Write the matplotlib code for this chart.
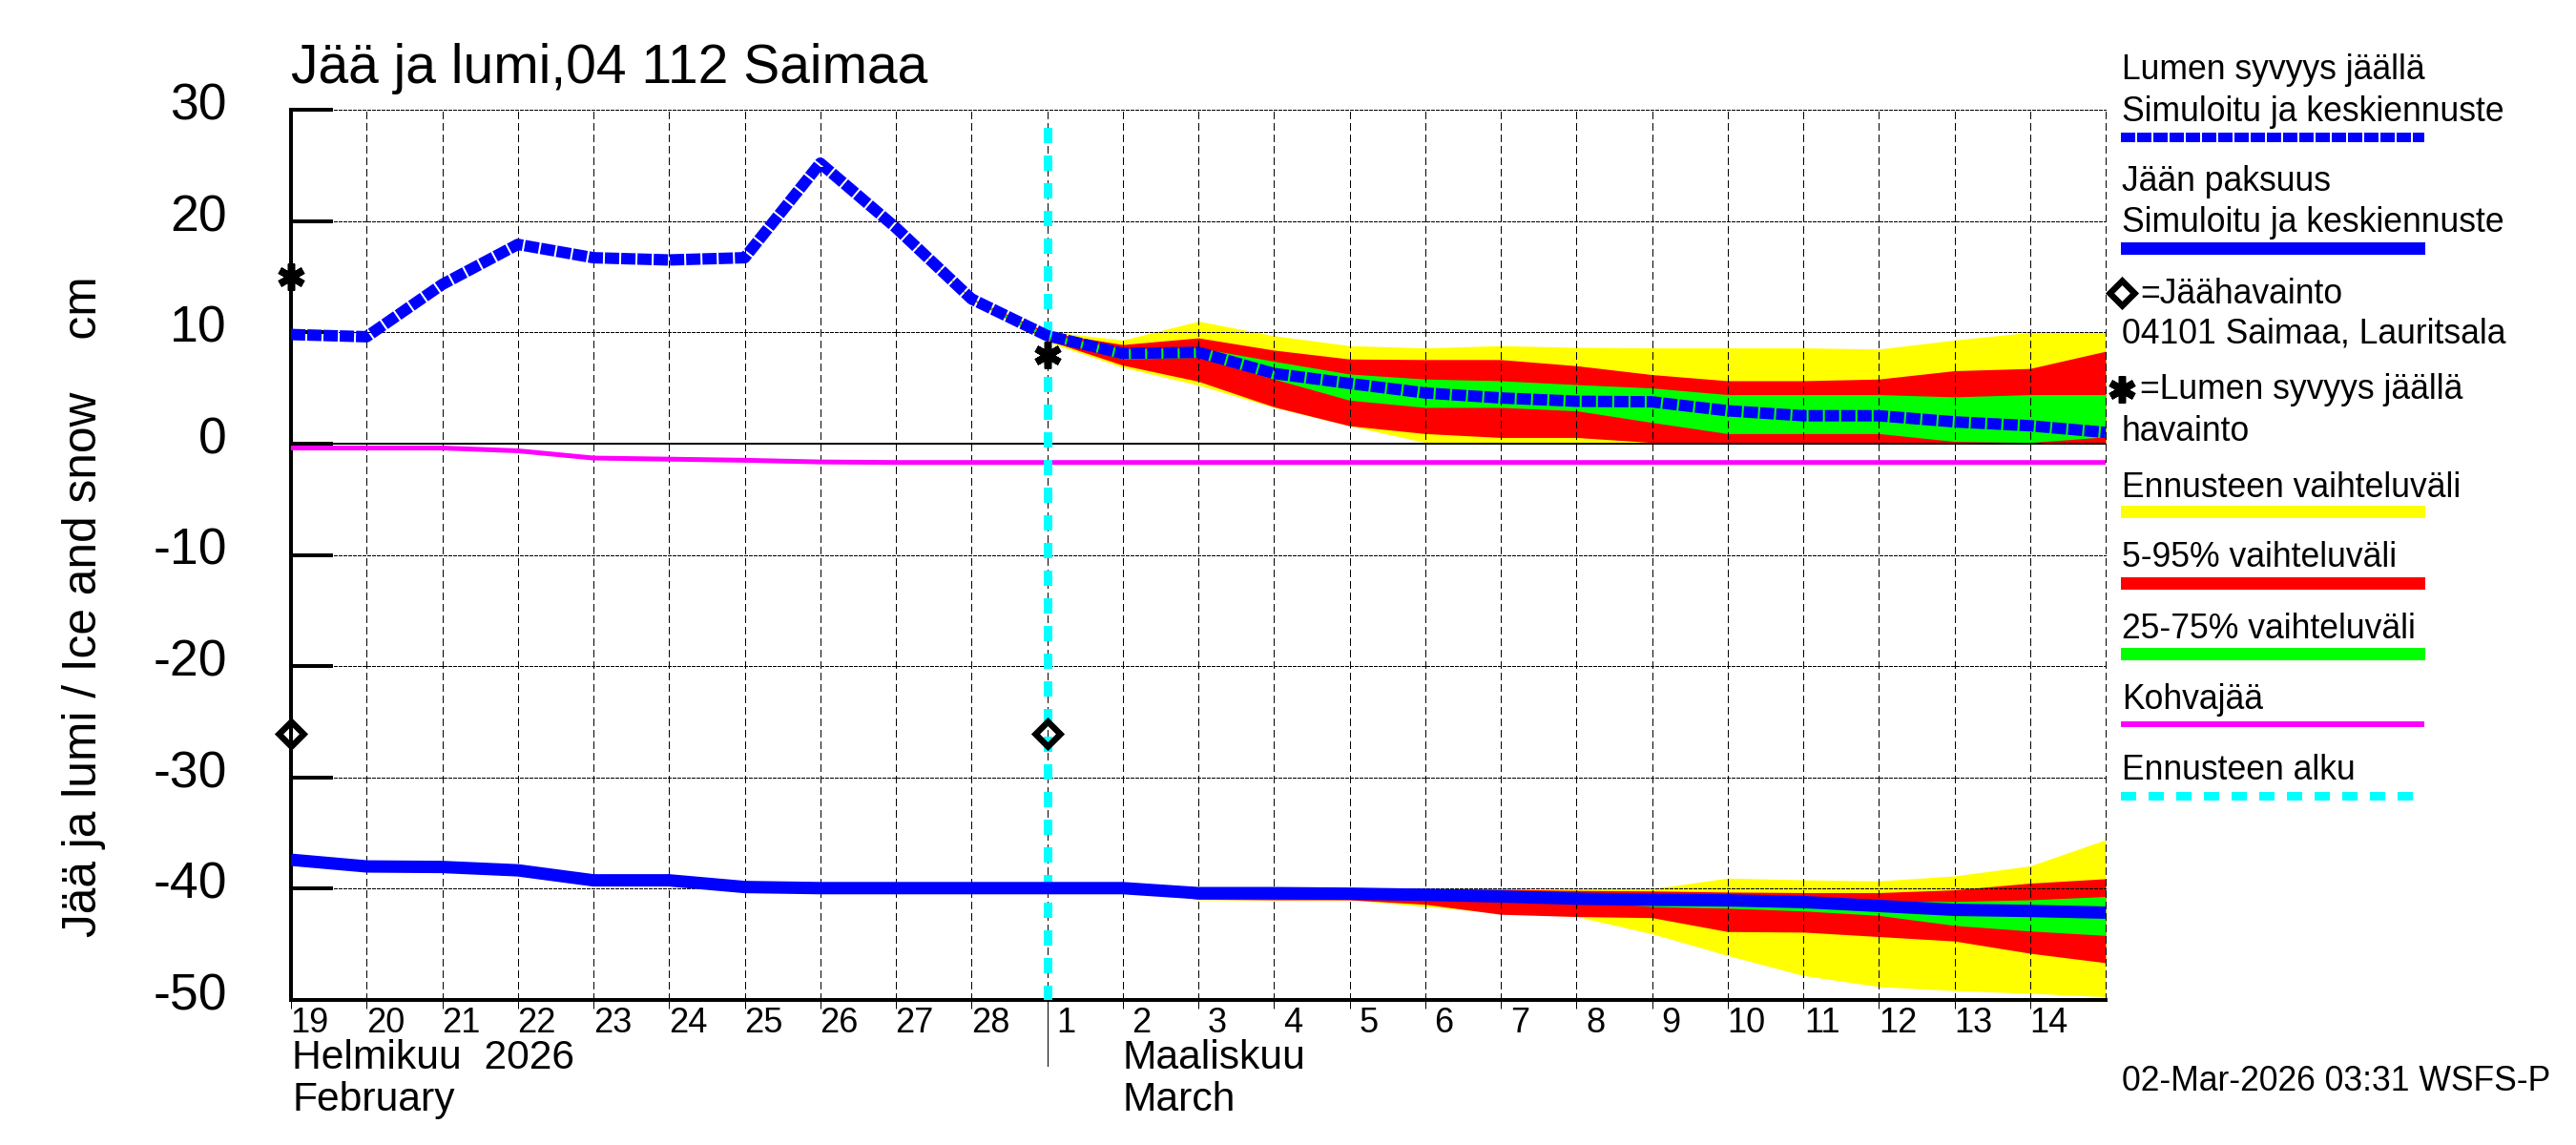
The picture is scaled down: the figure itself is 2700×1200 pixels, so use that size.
# Ice and snow forecast chart for Saimaa
import matplotlib
matplotlib.use('Agg')
import matplotlib.pyplot as plt
from matplotlib.lines import Line2D
from matplotlib.transforms import ScaledTranslation
import numpy as np

plt.rcParams['font.family'] = ['Liberation Sans', 'DejaVu Sans']
plt.rcParams['axes.unicode_minus'] = False

WIDTH = 2700
HEIGHT = 1200

# day numbers on the x axis, Feb 19 is day 0
day_labels = [19, 20, 21, 22, 23, 24, 25, 26, 27, 28,
              1, 2, 3, 4, 5, 6, 7, 8, 9, 10, 11, 12, 13, 14]
y_ticks = [30, 20, 10, 0, -10, -20, -30, -40, -50]

# simulated + mean forecast, Feb 19 ... Mar 15
sim_days = np.arange(25)
snow_mean = [9.8, 9.6, 14.3, 17.9, 16.7, 16.5, 16.7, 25.2, 19.4, 13.0,
             9.7, 8.1, 8.2, 6.3, 5.4, 4.55, 4.1, 3.8, 3.75, 2.95,
             2.5, 2.5, 1.95, 1.6, 1.0]
ice_mean = [-37.4, -38.0, -38.05, -38.35, -39.25, -39.25, -39.85, -39.95, -39.95, -39.95,
            -39.95, -39.95, -40.4, -40.4, -40.45, -40.55, -40.7, -40.9, -41.0, -41.05,
            -41.2, -41.55, -41.9, -42.0, -42.15]
slush = [-0.4, -0.4, -0.4, -0.65, -1.3, -1.4, -1.5, -1.65, -1.7, -1.7,
         -1.7, -1.7, -1.7, -1.7, -1.7, -1.7, -1.7, -1.7, -1.7, -1.7,
         -1.7, -1.7, -1.7, -1.7, -1.7]

# snow bands, Feb 27 ... Mar 15
snow_days = np.arange(8, 25)
snow_yellow_hi = [19.4, 13.1, 10.1, 9.3, 11.0, 9.7, 8.8, 8.6, 8.8, 8.65, 8.6, 8.6, 8.6, 8.5, 9.3, 10.0, 10.0]
snow_red_hi = [19.4, 13.05, 10.0, 8.9, 9.5, 8.4, 7.6, 7.55, 7.55, 7.0, 6.2, 5.65, 5.65, 5.8, 6.55, 6.75, 8.3]
snow_green_hi = [19.4, 13.02, 9.85, 8.5, 8.6, 7.4, 6.25, 5.8, 5.65, 5.3, 5.0, 4.4, 4.4, 4.4, 4.2, 4.4, 4.4]
snow_green_lo = [19.4, 12.98, 9.4, 7.6, 7.75, 5.8, 3.9, 3.25, 3.25, 2.95, 1.9, 0.9, 0.9, 0.9, 0.2, 0.1, 0.6]
snow_red_lo = [19.4, 12.95, 9.3, 7.05, 5.6, 3.3, 1.6, 0.9, 0.55, 0.55, 0.1, 0.0, 0.0, 0.0, 0.1, 0.0, 0.0]
snow_yellow_lo = [19.4, 12.9, 9.15, 6.85, 5.25, 3.25, 1.6, 0.1, 0.1, 0.1, 0.0, 0.0, 0.0, 0.0, 0.0, 0.0, 0.0]

# ice bands, Mar 1 ... Mar 15
ice_days = np.arange(10, 25)
ice_yellow_hi = [-39.95, -39.95, -40.3, -40.3, -39.9, -40.0, -40.0, -40.0, -40.0, -39.05, -39.2, -39.3, -38.85, -37.95, -35.6]
ice_red_hi = [-39.95, -39.95, -40.35, -40.35, -40.0, -40.0, -40.05, -40.15, -40.2, -40.3, -40.35, -40.35, -40.1, -39.5, -39.1]
ice_green_hi = [-39.95, -39.95, -40.4, -40.4, -40.4, -40.5, -40.6, -40.7, -40.8, -40.8, -40.85, -41.1, -41.15, -41.0, -40.7]
ice_green_lo = [-39.95, -39.95, -40.4, -40.4, -40.5, -40.6, -40.8, -41.1, -41.6, -41.75, -42.0, -42.4, -43.3, -43.8, -44.2]
ice_red_lo = [-39.95, -40.0, -40.95, -41.0, -41.0, -41.4, -42.3, -42.5, -42.6, -43.85, -43.9, -44.3, -44.7, -45.8, -46.65]
ice_yellow_lo = [-39.95, -40.0, -41.0, -41.0, -41.0, -41.6, -42.2, -42.5, -44.05, -46.0, -47.8, -48.8, -49.15, -49.4, -49.7]

# observations: day, value
ice_obs_days = [0, 10]
ice_obs = [-26.1, -26.1]
snow_obs_days = [0, 10]
snow_obs = [15.0, 8.0]

forecast_start = 10

YELLOW = '#ffff00'
RED = '#ff0000'
GREEN = '#00ff00'
BLUE = '#0000ff'
MAGENTA = '#ff00ff'
CYAN = '#00ffff'
LEGEND_SIZE = 25.6


def px_w(pixels):
    # line width / size in points from pixels
    return pixels * 0.72


def put_text(x, y, text, size=LEGEND_SIZE, **kwargs):
    fig.text(x / WIDTH, 1 - y / HEIGHT, text, fontsize=size, va='baseline', **kwargs)


def legend_line(y, color, width, style='-'):
    fig.add_artist(Line2D([2223 / WIDTH, 2541 / WIDTH], [1 - y / HEIGHT, 1 - y / HEIGHT],
                          color=color, lw=px_w(width), linestyle=style,
                          solid_capstyle='butt', dash_capstyle='butt', antialiased=False))


fig = plt.figure(figsize=(WIDTH / 100, HEIGHT / 100), dpi=100)
ax = fig.add_axes([305 / WIDTH, 1 - 1048 / HEIGHT, (2207 - 305) / WIDTH, (1048 - 115) / HEIGHT])
ax.set_xlim(0, 24)
ax.set_ylim(-50, 30)

# forecast bands
for days, bands in ((snow_days, (snow_yellow_lo, snow_yellow_hi, snow_red_lo, snow_red_hi, snow_green_lo, snow_green_hi)),
                    (ice_days, (ice_yellow_lo, ice_yellow_hi, ice_red_lo, ice_red_hi, ice_green_lo, ice_green_hi))):
    ax.fill_between(days, bands[0], bands[1], color=YELLOW, lw=0, antialiased=False, zorder=1)
    ax.fill_between(days, bands[2], bands[3], color=RED, lw=0, antialiased=False, zorder=1.1)
    ax.fill_between(days, bands[4], bands[5], color=GREEN, lw=0, antialiased=False, zorder=1.2)

# grid
for d in range(1, 25):
    ax.axvline(d, color='black', lw=px_w(1), linestyle=(0, (8, 5)), clip_on=False,
               antialiased=False, zorder=2)
for v in y_ticks[:-1]:
    if v != 0:
        ax.axhline(v, color='black', lw=px_w(1), linestyle=(0, (3, 2)), clip_on=False,
                   antialiased=False, zorder=2)
ax.axhline(0, color='black', lw=px_w(1.5), antialiased=False, zorder=2)

# series
ax.plot(sim_days, slush, color=MAGENTA, lw=px_w(5), solid_capstyle='butt', zorder=3)
ax.plot([forecast_start, forecast_start], [-50, 29], color=CYAN, lw=px_w(9),
        linestyle=(0, (1.667, 1.478)), dash_capstyle='butt', antialiased=False, zorder=4)
ax.plot(sim_days, snow_mean, color=BLUE, lw=px_w(12), linestyle=(0, (1.25, 0.17)),
        dash_capstyle='butt', zorder=5)
ax.plot(sim_days, ice_mean, color=BLUE, lw=px_w(13), solid_capstyle='butt', zorder=5)

# observations
ax.plot(ice_obs_days, ice_obs, linestyle='none', marker='D', ms=px_w(19), mfc='none',
        mec='black', mew=px_w(6.5), clip_on=False, zorder=6)
ax.plot(snow_obs_days, snow_obs, linestyle='none', marker=(6, 2, 0), ms=px_w(28),
        mec='black', mew=px_w(7.5), clip_on=False, zorder=6)

# axes
ax.spines['top'].set_visible(False)
ax.spines['right'].set_visible(False)
ax.spines['left'].set_linewidth(px_w(4))
ax.spines['bottom'].set_linewidth(px_w(4))

ax.set_yticks(y_ticks)
ax.tick_params(axis='y', direction='in', length=px_w(44), width=px_w(4),
               labelsize=38.5, pad=px_w(67))
for label in ax.get_yticklabels():
    label.set_transform(label.get_transform() + ScaledTranslation(0, px_w(9) / 72, fig.dpi_scale_trans))

ax.set_xticks(range(24))
ax.set_xticklabels([])
ax.tick_params(axis='x', which='major', direction='out', length=px_w(9), width=px_w(1))
ax.set_xticks(np.arange(24) + 0.25, minor=True)
ax.set_xticklabels(day_labels, minor=True)
ax.tick_params(axis='x', which='minor', length=0, labelsize=26, pad=px_w(7))
# month separator
ax.axvline(forecast_start, ymin=-69 / 933, ymax=0, color='black', lw=px_w(1), clip_on=False)

# titles and axis texts
put_text(305, 87, 'Jää ja lumi,04 112 Saimaa', size=41)
fig.text(88 / WIDTH, 1 - 636 / HEIGHT, 'Jää ja lumi / Ice and snow    cm', fontsize=35.7,
         rotation=90, ha='center', va='center')
put_text(306, 1120, 'Helmikuu  2026', size=30.7)
put_text(306, 1164, 'February', size=30.7)
put_text(1177, 1120, 'Maaliskuu', size=30.7)
put_text(1177, 1164, 'March', size=30.7)

# hand placed legend on the right
put_text(2224, 83, 'Lumen syvyys jäällä')
put_text(2224, 127, 'Simuloitu ja keskiennuste')
legend_line(144, BLUE, 10, (0, (1.5, 0.25)))
put_text(2224, 200, 'Jään paksuus')
put_text(2224, 243, 'Simuloitu ja keskiennuste')
legend_line(260, BLUE, 13)
fig.add_artist(Line2D([2224 / WIDTH], [1 - 307 / HEIGHT], marker='D', ms=px_w(19), mfc='none',
                      mec='black', mew=px_w(6.5), linestyle='none'))
put_text(2243, 318, '=Jäähavainto')
put_text(2224, 360, '04101 Saimaa, Lauritsala')
fig.add_artist(Line2D([2224 / WIDTH], [1 - 408 / HEIGHT], marker=(6, 2, 0), ms=px_w(28),
                      mec='black', mew=px_w(7.5), linestyle='none'))
put_text(2243, 418, '=Lumen syvyys jäällä')
put_text(2224, 462, 'havainto')
put_text(2224, 521, 'Ennusteen vaihteluväli')
legend_line(536, YELLOW, 13)
put_text(2224, 594, '5-95% vaihteluväli')
legend_line(611, RED, 13)
put_text(2224, 669, '25-75% vaihteluväli')
legend_line(685, GREEN, 13)
put_text(2224, 743, 'Kohvajää')
legend_line(759, MAGENTA, 6)
put_text(2224, 817, 'Ennusteen alku')
legend_line(833.5, CYAN, 9, (0, (1.667, 1.478)))
put_text(2224, 1143, '02-Mar-2026 03:31 WSFS-P')

fig.savefig('out.png', dpi=100)
